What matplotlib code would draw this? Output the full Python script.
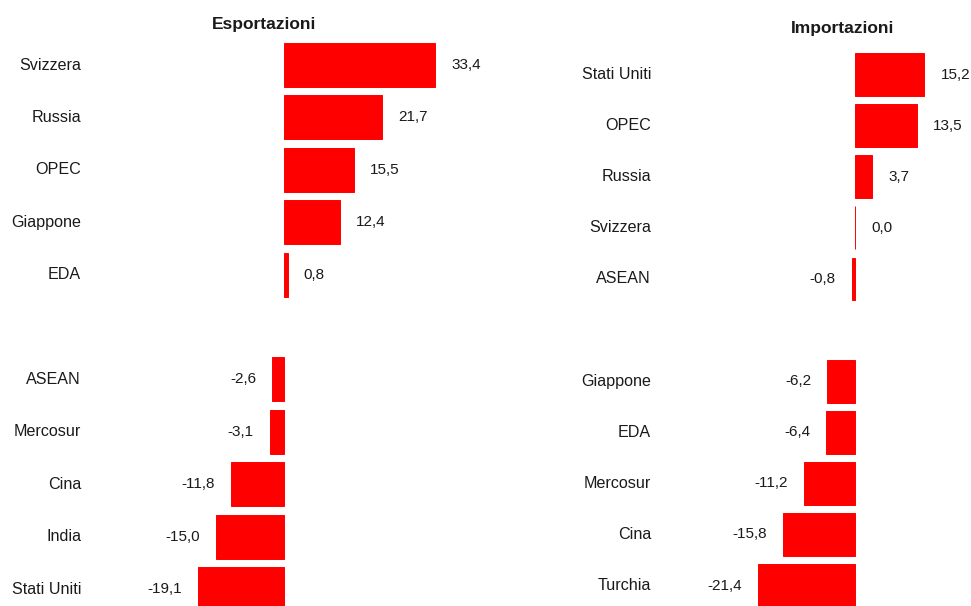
import matplotlib
matplotlib.use("Agg")
import matplotlib.pyplot as plt
import matplotlib.transforms as mtrans

plt.rcParams['font.family'] = ['Liberation Sans Narrow', 'Liberation Sans', 'DejaVu Sans']

# Esportazioni
exp_cat = ['Svizzera', 'Russia', 'OPEC', 'Giappone', 'EDA',
           'ASEAN', 'Mercosur', 'Cina', 'India', 'Stati Uniti']
exp_val = [33.4, 21.7, 15.5, 12.4, 0.8, -2.6, -3.1, -11.8, -15.0, -19.1]

# Importazioni
imp_cat = ['Stati Uniti', 'OPEC', 'Russia', 'Svizzera', 'ASEAN',
           'Giappone', 'EDA', 'Mercosur', 'Cina', 'Turchia']
imp_val = [15.2, 13.5, 3.7, 0.0, -0.8, -6.2, -6.4, -11.2, -15.8, -21.4]

W, H = 971, 606
fig = plt.figure(figsize=(W / 100, H / 100), dpi=100)

# positions: 5 top rows, one empty slot, 5 bottom rows
slots = [0, 1, 2, 3, 4, 6, 7, 8, 9, 10]


def panel(rect, cats, vals, zero_px, scale, y0, pitch, label_px, title, title_xy):
    ax = fig.add_axes(rect)
    left_px = rect[0] * W
    width_px = rect[2] * W
    ax.set_xlim(-(zero_px - left_px) / scale, (left_px + width_px - zero_px) / scale)
    ax.set_ylim((H - y0) / pitch, -y0 / pitch)
    ax.barh(slots, vals, height=0.84, color='#ff0000', edgecolor='#ff0000', linewidth=0.7)
    ax.axis('off')
    tr = mtrans.blended_transform_factory(ax.transAxes, ax.transData)
    lx = (label_px - left_px) / width_px
    for s, c, v in zip(slots, cats, vals):
        ax.text(lx, s, c, transform=tr, ha='right', va='center', fontsize=11.6, color='#1a1a1a')
        txt = f"{v:.1f}".replace('.', ',')
        if v >= 0:
            ax.annotate(txt, (v, s), xytext=(16, 0), textcoords='offset pixels',
                        ha='left', va='center', fontsize=11, color='#1a1a1a')
        else:
            ax.annotate(txt, (v, s), xytext=(-16, 0), textcoords='offset pixels',
                        ha='right', va='center', fontsize=11, color='#1a1a1a')
    fig.text(title_xy[0] / W, 1 - title_xy[1] / H, title, ha='center', va='center',
             fontsize=12.5, fontweight='bold', color='#1a1a1a')


panel([0, 0, 0.5, 1], exp_cat, exp_val, 284, 4.52, 65, 52.4, 81,
      'Esportazioni', (264, 24))
panel([0.5, 0, 0.5, 1], imp_cat, imp_val, 855.3, 4.55, 74.6, 51.1, 651,
      'Importazioni', (843, 28))

fig.savefig('out.png', dpi=100)
